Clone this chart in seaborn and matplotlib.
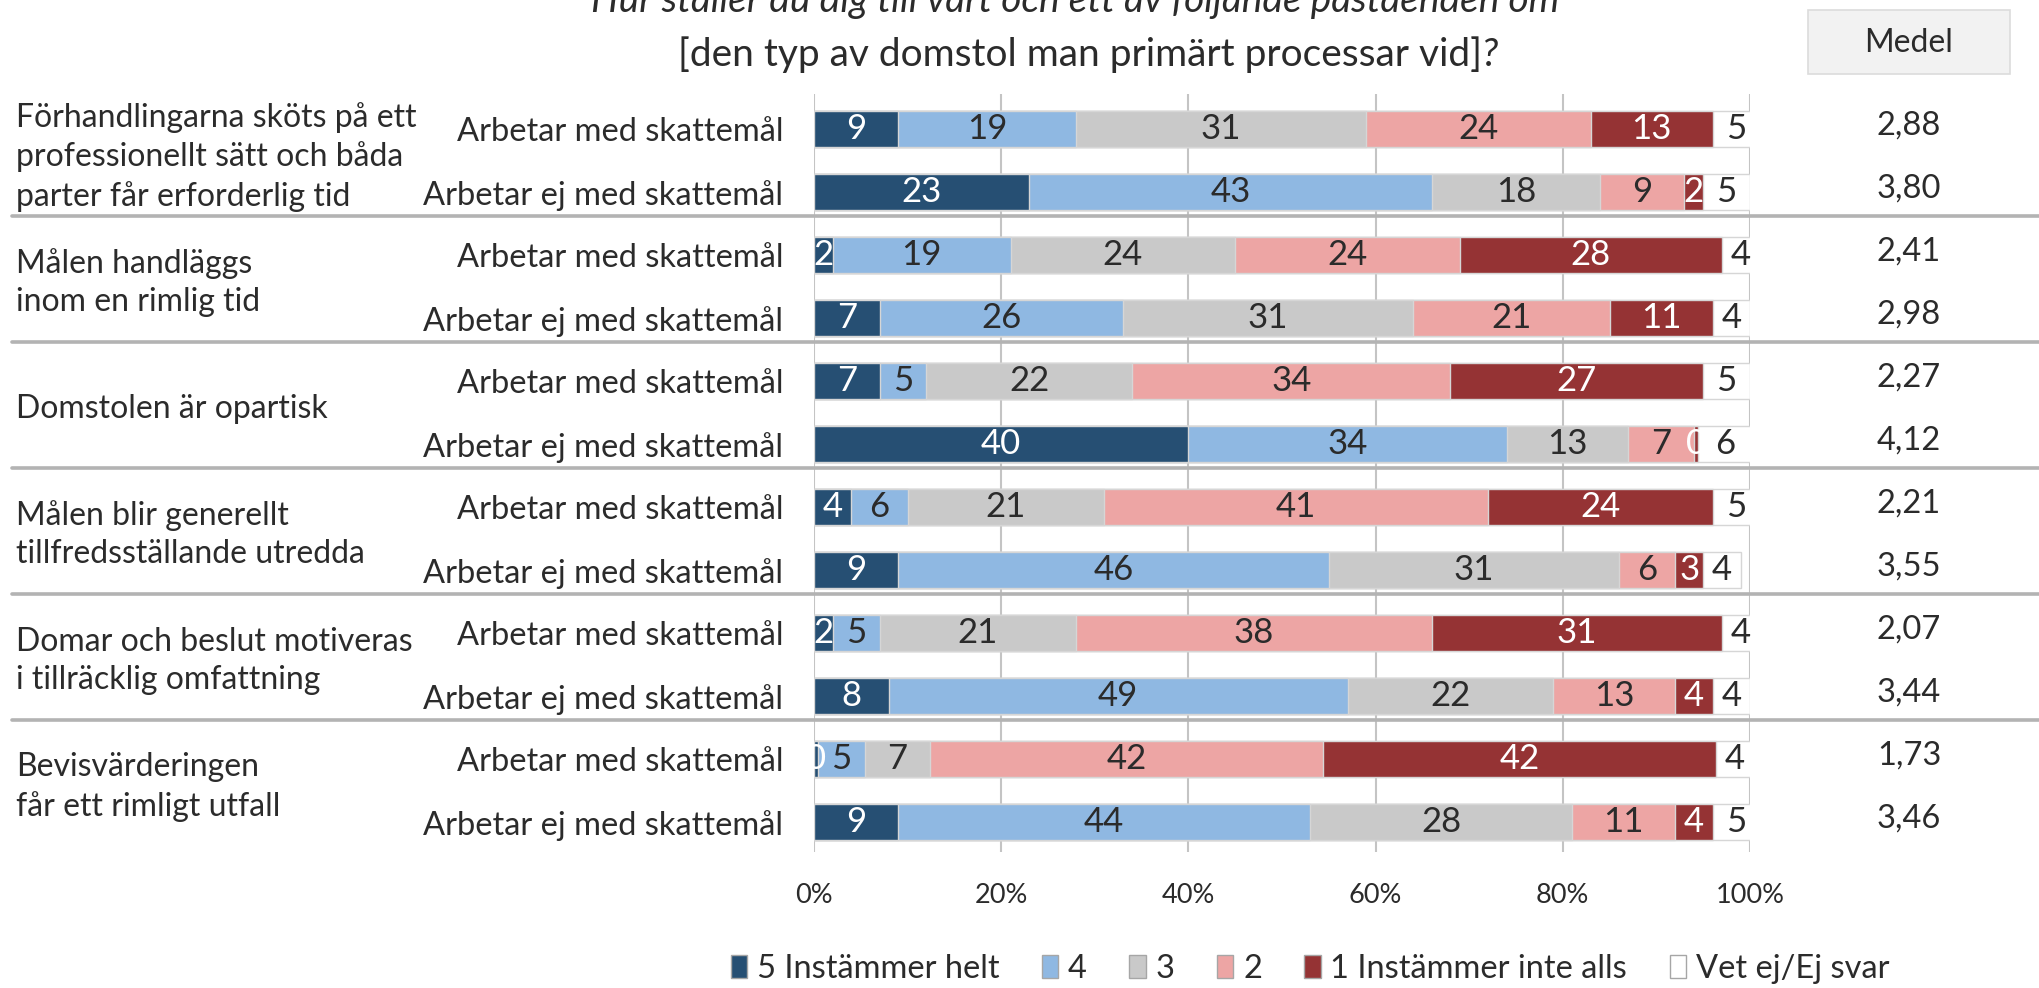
import matplotlib
matplotlib.use("Agg")
import matplotlib.pyplot as plt
import matplotlib.transforms as mtransforms
from matplotlib.patches import Rectangle, Patch
from matplotlib.lines import Line2D
import numpy as np
import pandas as pd
import seaborn as sns

# ---------------- data ----------------
groups = [
    "Förhandlingarna sköts på ett\nprofessionellt sätt och båda\nparter får erforderlig tid",
    "Målen handläggs\ninom en rimlig tid",
    "Domstolen är opartisk",
    "Målen blir generellt\ntillfredsställande utredda",
    "Domar och beslut motiveras\ni tillräcklig omfattning",
    "Bevisvärderingen\nfår ett rimligt utfall",
]
subgroups = ["Arbetar med skattemål", "Arbetar ej med skattemål"]
series_names = ["5 Instämmer helt", "4", "3", "2", "1 Instämmer inte alls", "Vet ej/Ej svar"]

s5 = [9, 23, 2, 7, 7, 40, 4, 9, 2, 8, 0.4, 9]
s4 = [19, 43, 19, 26, 5, 34, 6, 46, 5, 49, 5, 44]
s3 = [31, 18, 24, 31, 22, 13, 21, 31, 21, 22, 7, 28]
s2 = [24, 9, 24, 21, 34, 7, 41, 6, 38, 13, 42, 11]
s1 = [13, 2, 28, 11, 27, 0.4, 24, 3, 31, 4, 42, 4]
vet = [5, 5, 4, 4, 5, 6, 5, 4, 4, 4, 4, 5]
medel = ["2,88", "3,80", "2,41", "2,98", "2,27", "4,12",
         "2,21", "3,55", "2,07", "3,44", "1,73", "3,46"]
xticks = [0, 20, 40, 60, 80, 100]
xtick_labels = ["0%", "20%", "40%", "60%", "80%", "100%"]
title_line1 = "Hur ställer du dig till vart och ett av följande påståenden om"
title_line2 = "[den typ av domstol man primärt processar vid]"

colors = ["#264f73", "#8fb8e2", "#c9c9c9", "#eda5a4", "#953334", "#ffffff"]
label_colors = ["white", "#2b2b2b", "#2b2b2b", "#2b2b2b", "white", "#2b2b2b"]

# ---------------- layout ----------------
sns.set_theme(style="white")
plt.rcParams["font.family"] = ["Lato", "DejaVu Sans"]
TXT = "#2b2b2b"
FS_SUB = 23.5
FS_GRP = 23
FS_NUM = 25
FS_MED = 23.5

W, H = 2040, 988
fig = plt.figure(figsize=(W / 100, H / 100), dpi=100)
ax_l, ax_r = 814, 1750
ax_t, ax_b = 94, 852
ax = fig.add_axes([ax_l / W, 1 - ax_b / H, (ax_r - ax_l) / W, (ax_b - ax_t) / H])

series = [s5, s4, s3, s2, s1, vet]
n = len(s5)
row_ids = [f"r{i}" for i in range(n)]
sub_labels = [subgroups[i % 2] for i in range(n)]
vals = np.array(series, dtype=float)
cum = np.cumsum(vals, axis=0)

# stacked bars by overlaying cumulative totals (largest first)
for k in range(len(series) - 1, -1, -1):
    df = pd.DataFrame({"row": row_ids, "value": cum[k]})
    sns.barplot(data=df, x="value", y="row", order=row_ids, orient="y",
                color=colors[k], saturation=1, width=0.58,
                edgecolor="#d6d6d6", linewidth=1.0, ax=ax, zorder=2)

# segment labels
for k in range(len(series)):
    for i in range(n):
        v = vals[k, i]
        xc = cum[k, i] - v / 2
        if xc > 100:
            xc = 100 - (100 - (cum[k, i] - v)) / 2
        ax.text(xc, i, f"{v:.0f}", ha="center", va="center",
                fontsize=FS_NUM, color=label_colors[k], zorder=5)

ax.set_xlim(0, 100)
ax.set_ylim(n - 1 + 0.476, -0.556)
ax.set_xticks(xticks, labels=xtick_labels)
ax.set_yticks(range(n), labels=sub_labels)
ax.set_xlabel("")
ax.set_ylabel("")
ax.grid(axis="x", color="#c4c4c4", linewidth=1.5, zorder=0)
ax.grid(axis="y", visible=False)
ax.set_axisbelow(True)
for sp in ax.spines.values():
    sp.set_visible(False)
ax.tick_params(axis="y", length=0, pad=22, labelsize=FS_SUB, labelcolor=TXT)
ax.tick_params(axis="x", length=0, pad=22, labelsize=19.5, labelcolor=TXT)

blend = mtransforms.blended_transform_factory(fig.transFigure, ax.transData)

# group labels and separators
for g, name in enumerate(groups):
    fig.text(16 / W, 2 * g + 0.5 - 0.06, name, transform=blend, ha="left",
             va="center", fontsize=FS_GRP, color=TXT, linespacing=1.35,
             multialignment="left")
for g in range(len(groups) - 1):
    ysep = 2 * g + 1 + 0.38
    fig.add_artist(Line2D([12 / W, 1.0], [ysep, ysep], transform=blend,
                          color="#b3b3b3", linewidth=2.6, zorder=1))

# Medel column
fig.add_artist(Rectangle((1808 / W, 1 - 74 / H), 202 / W, 64 / H,
                         transform=fig.transFigure, facecolor="#f2f2f2",
                         edgecolor="#dcdcdc", linewidth=1.2))
fig.text(1909 / W, 1 - 43 / H, "Medel", ha="center", va="center",
         fontsize=23, color=TXT)
for i, m in enumerate(medel):
    fig.text(1909 / W, i - 0.06, m, transform=blend, ha="center",
             va="center", fontsize=FS_MED, color=TXT)

# title
fig.text(1075 / W, 1 - 12 / H, title_line1, ha="center", va="baseline",
         fontsize=28, color=TXT, style="italic")
fig.text(1482 / W, 1 - 55 / H, title_line2, ha="right", va="center",
         fontsize=28, color=TXT)
fig.text(1482 / W, 1 - 55 / H, "?", ha="left", va="center",
         fontsize=28, color=TXT, style="italic")

# legend
handles = [Patch(facecolor=c, edgecolor="#a6a6a6", linewidth=1.0) for c in colors]
fig.legend(handles, series_names, loc="center", bbox_to_anchor=(1310 / W, 1 - 969 / H),
           ncol=6, frameon=False, fontsize=23.5, labelcolor=TXT,
           handlelength=0.5, handleheight=0.7, handletextpad=0.3,
           columnspacing=1.3)

fig.savefig("out.png", dpi=100)
